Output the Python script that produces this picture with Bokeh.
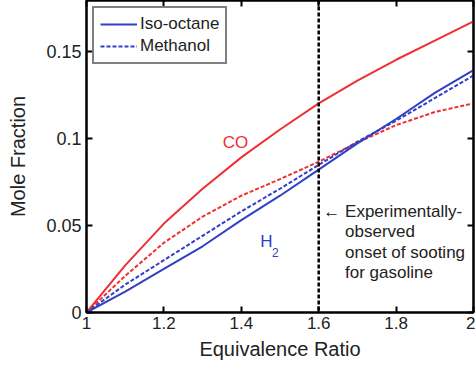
from bokeh.plotting import figure
from bokeh.models import Range1d, FixedTicker, LinearAxis, Span, Label, Legend
from bokeh.embed import file_html
from bokeh.resources import INLINE

# ---- data ----
phi = [1.0, 1.1, 1.2, 1.3, 1.4, 1.5, 1.6, 1.7, 1.8, 1.9, 2.0]
co_isooctane = [0.0, 0.027, 0.051, 0.071, 0.089, 0.105, 0.120, 0.133, 0.145, 0.156, 0.167]
co_methanol = [0.0, 0.021, 0.040, 0.055, 0.067, 0.0765, 0.0865, 0.0975, 0.1075, 0.115, 0.120]
h2_isooctane = [0.0, 0.012, 0.025, 0.038, 0.053, 0.067, 0.082, 0.097, 0.111, 0.126, 0.139]
h2_methanol = [0.0, 0.016, 0.030, 0.044, 0.058, 0.071, 0.0847, 0.098, 0.110, 0.123, 0.136]
x_ticks = [1.0, 1.2, 1.4, 1.6, 1.8, 2.0]
x_tick_labels = ["1", "1.2", "1.4", "1.6", "1.8", "2"]
y_ticks = [0.0, 0.05, 0.1, 0.15]
y_tick_labels = ["0", "0.05", "0.1", "0.15"]
soot_onset = 1.6

RED = "#ee3034"
BLUE = "#3040c4"
FONT = "Liberation Sans"

p = figure(width=475, height=368, output_backend="svg", toolbar_location=None,
           x_range=Range1d(1, 2), y_range=Range1d(0, 0.179),
           min_border_left=86, min_border_right=2, min_border_top=0, min_border_bottom=56)
p.grid.visible = False
p.background_fill_color = "white"
p.outline_line_color = "black"
p.outline_line_width = 2

p.line(phi, co_isooctane, color=RED, line_width=2)
p.line(phi, co_methanol, color=RED, line_width=2, line_dash="4 2")
r1 = p.line(phi, h2_isooctane, color=BLUE, line_width=2)
r2 = p.line(phi, h2_methanol, color=BLUE, line_width=2, line_dash="4 2")

p.add_layout(Span(location=soot_onset, dimension="height", line_color="black",
                  line_width=2.5, line_dash="4 2"))

def style_axis(ax, ticks, labels, size, show_labels=True):
    ax.ticker = FixedTicker(ticks=ticks)
    ax.axis_line_width = 2
    ax.major_tick_line_width = 2
    ax.major_tick_in = 6
    ax.major_tick_out = 0
    ax.minor_tick_line_color = None
    ax.major_label_text_font = FONT
    ax.major_label_text_font_size = size
    ax.major_label_text_color = "#222222"
    ax.axis_label_text_font = FONT
    ax.axis_label_text_font_size = "20px"
    ax.axis_label_text_font_style = "normal"
    ax.axis_label_text_color = "#222222"
    if show_labels:
        ax.major_label_overrides = {t: l for t, l in zip(ticks, labels)}
    else:
        ax.major_label_overrides = {t: "" for t in ticks}
        ax.major_label_standoff = 0

xax = p.xaxis[0]
style_axis(xax, x_ticks, x_tick_labels, "17px")
xax.axis_label = "Equivalence Ratio"
xax.major_label_standoff = 4
xax.axis_label_standoff = 6

yax = p.yaxis[0]
style_axis(yax, y_ticks, y_tick_labels, "18px")
yax.axis_label = "Mole Fraction"
yax.major_label_standoff = 5
yax.axis_label_standoff = 14

top = LinearAxis()
style_axis(top, x_ticks, x_tick_labels, "17px", False)
p.add_layout(top, "above")
right = LinearAxis()
style_axis(right, y_ticks, y_tick_labels, "17px", False)
p.add_layout(right, "right")

legend = Legend(items=[("Iso-octane", [r1]), ("Methanol", [r2])], location=(6, 248))
legend.label_text_font = FONT
legend.label_text_font_size = "17px"
legend.label_text_color = "#222222"
legend.border_line_color = "black"
legend.border_line_width = 2
legend.margin = 0
legend.padding = 6
legend.spacing = 2
legend.glyph_width = 37
legend.label_standoff = 3
legend.label_height = 18
legend.glyph_height = 18
p.add_layout(legend)

def lab(x, y, text, color="#222222", size="17px", align="left"):
    p.add_layout(Label(x=x, y=y, text=text, text_color=color, text_font=FONT,
                       text_font_size=size, text_align=align, text_baseline="middle"))

lab(1.385, 0.0975, "CO", RED, align="center")
lab(1.465, 0.0405, "H", BLUE, align="center")
lab(1.488, 0.0345, "2", BLUE, size="12px", align="center")
lab(1.612, 0.0582, "\u2190 Experimentally-")
lab(1.668, 0.0465, "observed")
lab(1.668, 0.0347, "onset of sooting")
lab(1.668, 0.0229, "for gasoline")

open("out.html", "w").write(file_html(p, INLINE))
